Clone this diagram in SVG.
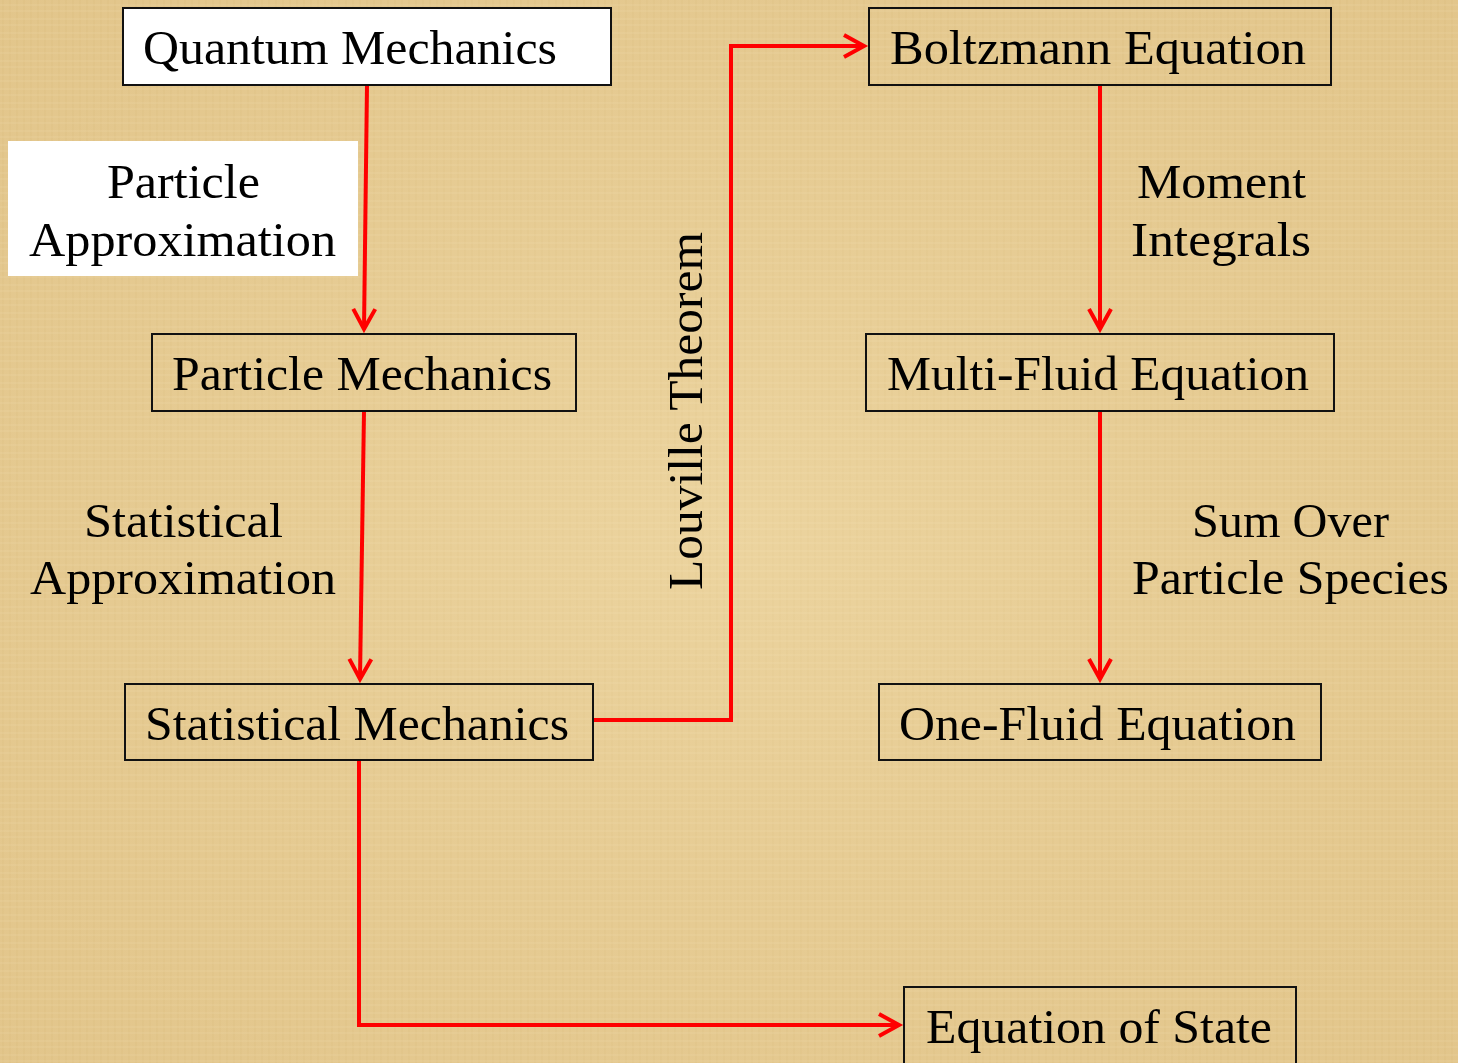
<svg xmlns="http://www.w3.org/2000/svg" width="1458" height="1063" viewBox="0 0 1458 1063">
<style>
.box{fill:none;stroke:#111;stroke-width:2}
.lbl{font-family:"Liberation Serif","DejaVu Serif",serif;font-size:48px;fill:#000}
.con{fill:none;stroke:#FF0000;stroke-width:4;stroke-linejoin:miter}
</style>
<defs>
<marker id="arr" markerUnits="userSpaceOnUse" viewBox="-26 -16 32 32" refX="0" refY="0" markerWidth="32" markerHeight="32" orient="auto">
<path d="M-20,-11 L0,0 L-20,11" fill="none" stroke="#FF0000" stroke-width="4" stroke-linejoin="miter"/>
</marker>
<pattern id="weave" width="14" height="14" patternUnits="userSpaceOnUse">
<rect width="14" height="14" fill="#E8CD96"/>
<path d="M3,0 V14 M10,0 V14" stroke="#D9BB80" stroke-width="1" opacity="0.5"/>
<path d="M0,5 H14 M0,11 H14" stroke="#F1DDB0" stroke-width="1" opacity="0.6"/>
</pattern>
<radialGradient id="blot" cx="0.5" cy="0.5" r="0.7">
<stop offset="0" stop-color="#F0DBA8" stop-opacity="0.5"/>
<stop offset="1" stop-color="#D8B877" stop-opacity="0.35"/>
</radialGradient>
</defs>
<rect width="1458" height="1063" fill="url(#weave)"/>
<rect width="1458" height="1063" fill="url(#blot)"/>

<g id="connectors">
<path class="con" d="M367,85 L364,329" marker-end="url(#arr)"/>
<path class="con" d="M364,411 L360,679" marker-end="url(#arr)"/>
<path class="con" d="M593,720 H731 V46 H864" marker-end="url(#arr)"/>
<path class="con" d="M1100,85 V329" marker-end="url(#arr)"/>
<path class="con" d="M1100,411 V679" marker-end="url(#arr)"/>
<path class="con" d="M359,760 V1025 H899" marker-end="url(#arr)"/>
</g>

<g id="quantum-mechanics">
<rect x="123" y="8" width="488" height="77" fill="#fff" stroke="#111" stroke-width="2"/>
<text class="lbl" x="143" y="64" textLength="414" lengthAdjust="spacingAndGlyphs">Quantum Mechanics</text>
</g>

<g id="particle-approximation">
<rect x="8" y="141" width="350" height="135" fill="#fff"/>
<text class="lbl" x="107" y="198" textLength="153" lengthAdjust="spacingAndGlyphs">Particle</text>
<text class="lbl" x="29" y="256" textLength="307" lengthAdjust="spacingAndGlyphs">Approximation</text>
</g>

<g id="particle-mechanics">
<rect class="box" x="152" y="334" width="424" height="77"/>
<text class="lbl" x="172" y="390" textLength="380" lengthAdjust="spacingAndGlyphs">Particle Mechanics</text>
</g>

<g id="statistical-approximation">
<text class="lbl" x="84" y="537" textLength="199" lengthAdjust="spacingAndGlyphs">Statistical</text>
<text class="lbl" x="30" y="594" textLength="306" lengthAdjust="spacingAndGlyphs">Approximation</text>
</g>

<g id="statistical-mechanics">
<rect class="box" x="125" y="684" width="468" height="76"/>
<text class="lbl" x="145" y="740" textLength="424" lengthAdjust="spacingAndGlyphs">Statistical Mechanics</text>
</g>

<g id="louville-theorem">
<text class="lbl" transform="translate(702,411) rotate(-90)" x="-179" y="0" textLength="358" lengthAdjust="spacingAndGlyphs">Louville Theorem</text>
</g>

<g id="boltzmann-equation">
<rect class="box" x="869" y="8" width="462" height="77"/>
<text class="lbl" x="890" y="64" textLength="416" lengthAdjust="spacingAndGlyphs">Boltzmann Equation</text>
</g>

<g id="moment-integrals">
<text class="lbl" x="1137" y="198" textLength="169" lengthAdjust="spacingAndGlyphs">Moment</text>
<text class="lbl" x="1131" y="256" textLength="180" lengthAdjust="spacingAndGlyphs">Integrals</text>
</g>

<g id="multi-fluid-equation">
<rect class="box" x="866" y="334" width="468" height="77"/>
<text class="lbl" x="887" y="390" textLength="422" lengthAdjust="spacingAndGlyphs">Multi-Fluid Equation</text>
</g>

<g id="sum-over-particle-species">
<text class="lbl" x="1192" y="537" textLength="197" lengthAdjust="spacingAndGlyphs">Sum Over</text>
<text class="lbl" x="1132" y="594" textLength="317" lengthAdjust="spacingAndGlyphs">Particle Species</text>
</g>

<g id="one-fluid-equation">
<rect class="box" x="879" y="684" width="442" height="76"/>
<text class="lbl" x="899" y="740" textLength="397" lengthAdjust="spacingAndGlyphs">One-Fluid Equation</text>
</g>

<g id="equation-of-state">
<rect class="box" x="904" y="987" width="392" height="90"/>
<text class="lbl" x="926" y="1043" textLength="346" lengthAdjust="spacingAndGlyphs">Equation of State</text>
</g>
</svg>
